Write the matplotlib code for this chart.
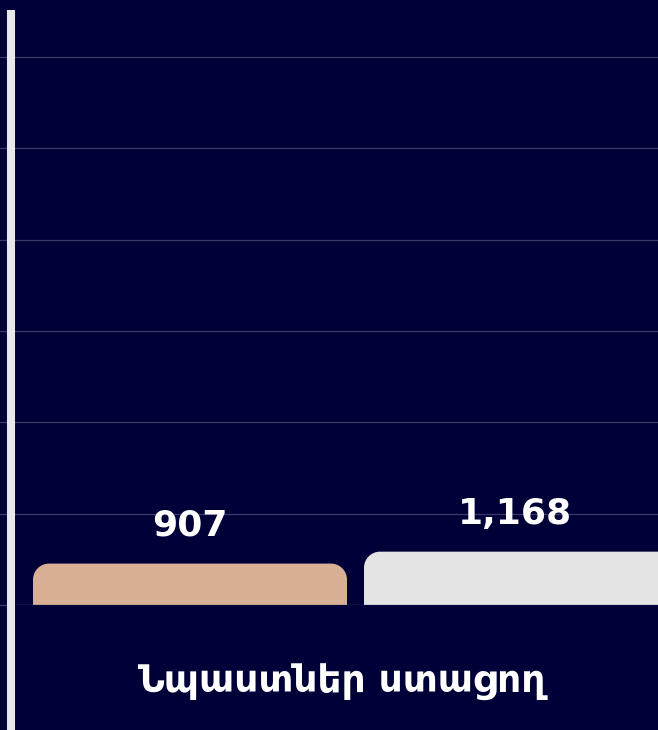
import matplotlib
matplotlib.use("Agg")
import matplotlib.pyplot as plt
from matplotlib.path import Path
from matplotlib.patches import PathPatch
from matplotlib.lines import Line2D
import numpy as np

# data
category = "Նպաստներ ստացող"
series = ["A", "B"]
values = [907, 1168]
colors = ["#d8b095", "#e4e4e4"]
value_labels = ["907", "1,168"]
grid_ticks = [0, 2000, 4000, 6000, 8000, 10000, 12000]

bg = "#000038"
W, H = 658, 730

fig = plt.figure(figsize=(W / 100, H / 100), dpi=100)
fig.patch.set_facecolor(bg)

# axes in pixel units -> figure fraction
ax_l, ax_r, ax_top, ax_bot = 11, 658, 10, 605
ax = fig.add_axes([ax_l / W, 1 - ax_bot / H, (ax_r - ax_l) / W, (ax_bot - ax_top) / H])
ax.set_facecolor(bg)

# bar centres at 190 and 521 px, width 314 px
ppx = 331.0
x0 = -(190 - ax_l) / ppx
x1 = 1 + (ax_r - 521) / ppx
ax.set_xlim(x0, x1)
ymax = 12000 + (57 - ax_top) / 91.4 * 2000
ax.set_ylim(0, ymax)

bw = 314 / ppx
xs = np.arange(len(values))
bars = ax.bar(xs, values, width=bw, color=colors, zorder=3)

# rounded top corners
r_px = 16
ppy = (ax_bot - ax_top) / ymax
rx = r_px / ppx
ry = r_px / ppy
k = 0.5523
for b, c in zip(bars, colors):
    b.set_visible(False)
    x, w, h = b.get_x(), b.get_width(), b.get_height()
    verts = [
        (x, 0), (x, h - ry),
        (x, h - ry + k * ry), (x + rx - k * rx, h), (x + rx, h),
        (x + w - rx, h),
        (x + w - rx + k * rx, h), (x + w, h - ry + k * ry), (x + w, h - ry),
        (x + w, 0), (x, 0),
    ]
    codes = [Path.MOVETO, Path.LINETO,
             Path.CURVE4, Path.CURVE4, Path.CURVE4,
             Path.LINETO,
             Path.CURVE4, Path.CURVE4, Path.CURVE4,
             Path.LINETO, Path.CLOSEPOLY]
    ax.add_patch(PathPatch(Path(verts, codes), facecolor=c, edgecolor="none", zorder=3))

# the second label sits a little left of its bar centre in the reference
label_dx = [0, -6]
for xi, v, lab, dx in zip(xs, values, value_labels, label_dx):
    ax.annotate(lab, (xi, v), xytext=(dx, 21), textcoords="offset pixels",
                ha="center", va="bottom", color="white", fontsize=26,
                fontweight="bold", family=["DejaVu Sans"])

ax.set_yticks(grid_ticks)
ax.set_yticklabels([])
ax.set_xticks([])
ax.grid(axis="y", color="#3a3a6c", linewidth=0.9, zorder=0)
ax.tick_params(axis="y", length=11, width=0.9, color="#3a3a6c", direction="out")
for s in ax.spines.values():
    s.set_visible(False)
# baseline on top of the bars
ax.axhline(0, color="#3a3a6c", linewidth=0.9, zorder=4)

# thick left axis line running down to the bottom
fig.add_artist(Line2D([ax_l / W, ax_l / W], [0, 1 - ax_top / H],
                      transform=fig.transFigure, color="#e8e8e8", linewidth=5.8,
                      solid_capstyle="butt"))

fig.text(341 / W, 1 - 682 / H, category, ha="center", va="center", color="white",
         fontsize=27, fontweight="bold", family=["DejaVu Sans"])

fig.savefig("out.png", dpi=100, facecolor=bg)
